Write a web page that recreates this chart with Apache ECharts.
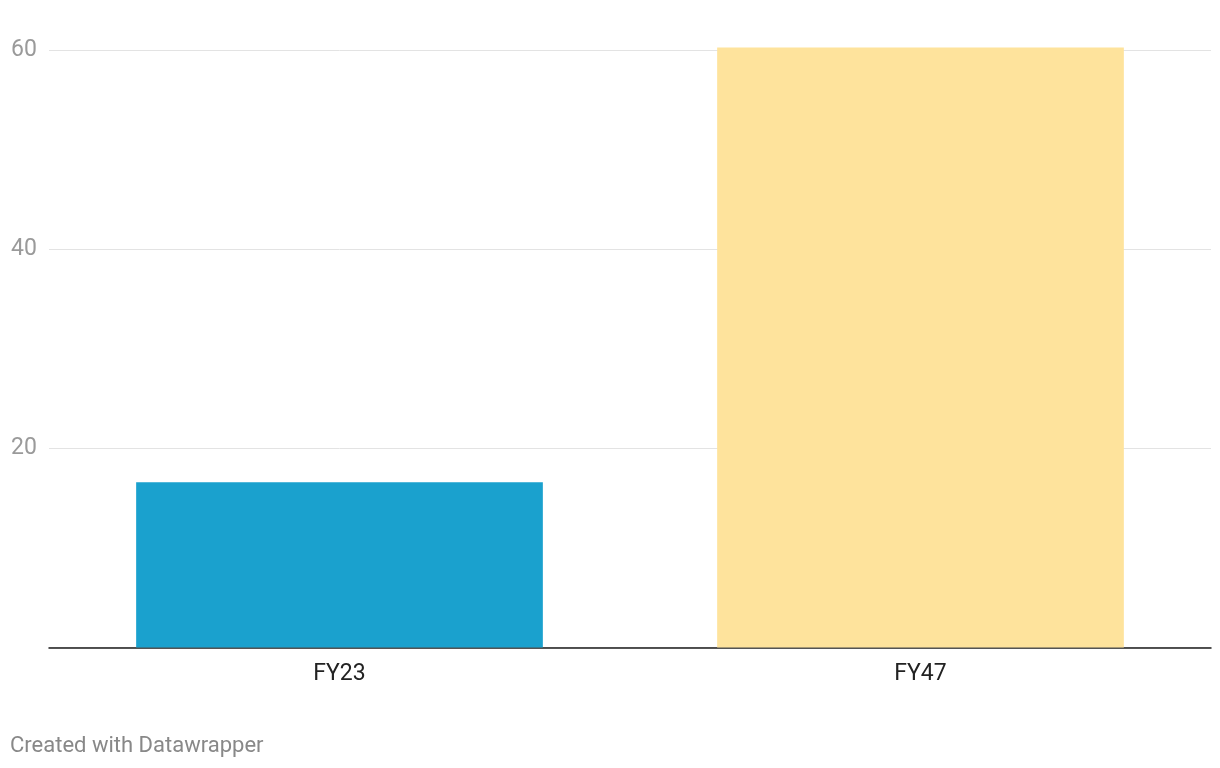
<!DOCTYPE html>
<html>
<head>
<meta charset="utf-8">
<script src="https://cdn.jsdelivr.net/npm/echarts@6/dist/echarts.min.js"></script>
<style>
  html, body { margin: 0; padding: 0; background: #fff; }
  #chart { width: 1220px; height: 768px; }
</style>
</head>
<body>
<div id="chart"></div>
<script>
const categories = ['FY23', 'FY47'];
const values = [16.6, 60.3];
const barColors = ['#1aa1ce', '#fee39c'];
const yTicks = [20, 40, 60];

const chart = echarts.init(document.getElementById('chart'), null, { renderer: 'canvas' });
chart.setOption({
  animation: false,
  backgroundColor: '#ffffff',
  textStyle: { fontFamily: 'Roboto' },
  grid: { left: 49, right: 9, top: 50.5, bottom: 120.5, containLabel: false },
  xAxis: {
    type: 'category',
    data: categories,
    axisLine: { show: true, lineStyle: { color: '#1d1d1d', width: 1.5 } },
    axisTick: { show: false },
    axisLabel: { color: '#222', fontSize: 23, margin: 15, fontFamily: 'Roboto' },
    splitLine: { show: false }
  },
  yAxis: {
    type: 'value',
    min: 0,
    max: 60,
    interval: 20,
    axisLine: { show: false },
    axisTick: { show: false },
    axisLabel: {
      color: '#9a9a9a', fontSize: 23, fontFamily: 'Roboto',
      align: 'left', margin: 38, padding: [3, 0, 0, 0],
      formatter: v => (yTicks.includes(v) ? String(v) : '')
    },
    splitLine: { show: true, lineStyle: { color: '#e3e3e3', width: 1 } }
  },
  series: [{
    type: 'bar',
    barWidth: '70%',
    clip: false,
    data: values.map((v, i) => ({ value: v, itemStyle: { color: barColors[i] } }))
  }],
  graphic: [{
    type: 'text',
    left: 10,
    top: 735,
    style: { text: 'Created with Datawrapper', fill: '#888', fontSize: 22, fontFamily: 'Roboto' }
  }]
});
</script>
</body>
</html>
